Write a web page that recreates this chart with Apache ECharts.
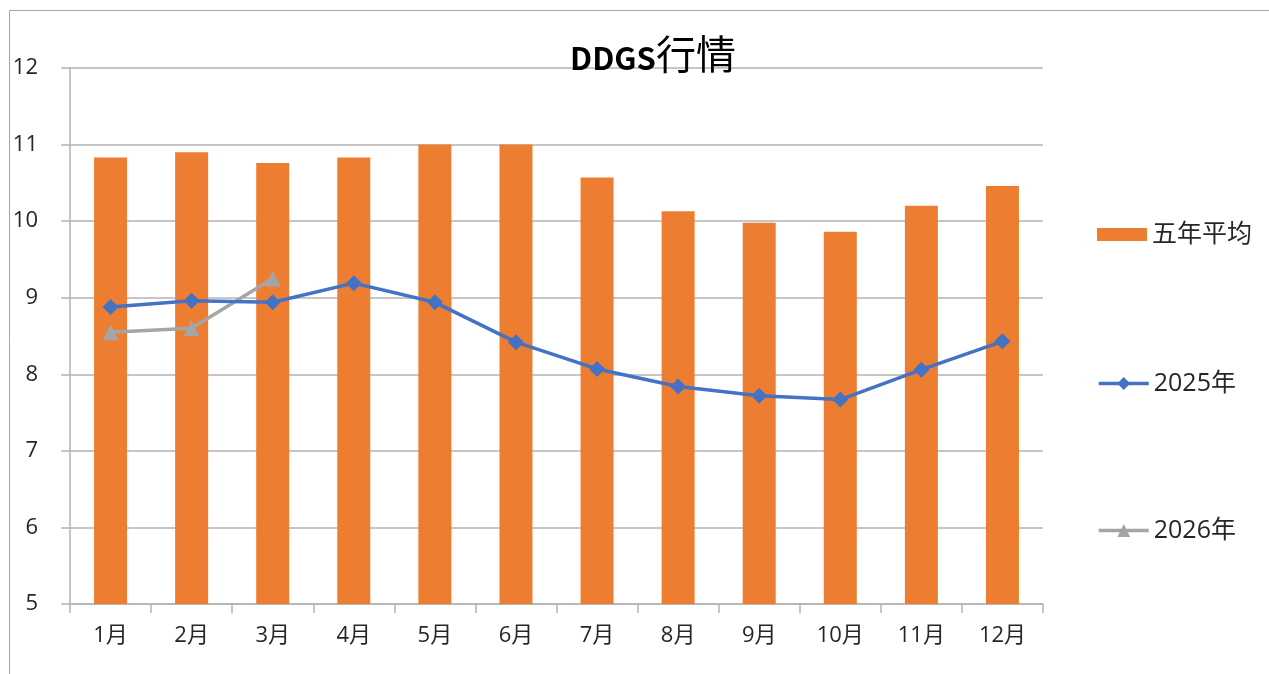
<!DOCTYPE html>
<html>
<head>
<meta charset="utf-8">
<script src="https://cdn.jsdelivr.net/npm/echarts@6/dist/echarts.min.js"></script>
<style>
html,body{margin:0;padding:0;background:#fff;}
#chart{width:1269px;height:674px;}
</style>
</head>
<body>
<div id="chart"></div>
<script>
var categories = ['1月','2月','3月','4月','5月','6月','7月','8月','9月','10月','11月','12月'];
var avg5 = [10.83, 10.90, 10.76, 10.83, 11.00, 11.00, 10.57, 10.13, 9.98, 9.86, 10.20, 10.46];
var y2025 = [8.88, 8.96, 8.94, 9.19, 8.94, 8.42, 8.07, 7.84, 7.72, 7.67, 8.06, 8.43];
var y2026 = [8.55, 8.60, 9.25, null, null, null, null, null, null, null, null, null];
var yTicks = [5, 6, 7, 8, 9, 10, 11, 12];

var chart = echarts.init(document.getElementById('chart'));
var gridColor = '#b3b3b3';
var txt = '#262626';
var font = '"Open Sans", "Noto Sans CJK SC", sans-serif';
chart.setOption({
  animation: false,
  textStyle: { fontFamily: font },
  graphic: [{
    type: 'rect', silent: true,
    shape: { x: 9.5, y: 10.5, width: 1400, height: 800 },
    style: { fill: 'none', stroke: '#a6a6a6', lineWidth: 1 }
  }],
  title: {
    text: '{a|DDGS}{b|行情}',
    left: 648, top: 19, textAlign: 'center',
    textStyle: {
      rich: {
        a: { fontSize: 31, fontWeight: 'bold', color: '#000', fontFamily: '"Noto Sans CJK SC"', verticalAlign: 'bottom', lineHeight: 50 },
        b: { fontSize: 40, fontWeight: 'normal', color: '#000', fontFamily: '"Noto Sans CJK SC"', verticalAlign: 'bottom', lineHeight: 50 }
      }
    }
  },
  legend: [
    { data: [{ name: '五年平均', icon: 'rect' }], orient: 'vertical', left: 1092, top: 217, itemWidth: 50, itemHeight: 13, itemGap: 0,
      textStyle: { fontSize: 25, color: txt, fontFamily: font } },
    { data: ['2025年'], orient: 'vertical', left: 1092, top: 366, itemWidth: 50, itemHeight: 16,
      lineStyle: { width: 3.5 },
      textStyle: { fontSize: 25, color: txt, fontFamily: font } },
    { data: ['2026年'], orient: 'vertical', left: 1092, top: 513, itemWidth: 50, itemHeight: 16,
      lineStyle: { width: 3.5 },
      textStyle: { fontSize: 25, color: txt, fontFamily: font } }
  ],
  grid: { left: 70, right: 226, top: 68, bottom: 70, containLabel: false },
  xAxis: {
    type: 'category', data: categories, boundaryGap: true,
    axisLine: { show: true, lineStyle: { color: gridColor, width: 1.5 } },
    axisTick: { show: true, length: 9, alignWithLabel: false, lineStyle: { color: gridColor, width: 1.5 } },
    axisLabel: { fontSize: 22, color: txt, margin: 21, interval: 0 },
    splitLine: { show: false }
  },
  yAxis: {
    type: 'value', min: yTicks[0], max: yTicks[yTicks.length - 1], interval: 1,
    axisLine: { show: true, lineStyle: { color: gridColor, width: 1.5 } },
    axisTick: { show: true, length: 9, lineStyle: { color: gridColor, width: 1.5 } },
    axisLabel: { fontSize: 22, color: txt, margin: 32 },
    splitLine: { show: true, lineStyle: { color: gridColor, width: 1.5 } }
  },
  series: [
    { name: '五年平均', type: 'bar', data: avg5, barWidth: 33,
      itemStyle: { color: '#ED7D31' }, z: 2 },
    { name: '2025年', type: 'line', data: y2025, symbol: 'diamond', symbolSize: 16,
      lineStyle: { color: '#4472C4', width: 3.5 }, itemStyle: { color: '#4472C4' }, z: 4 },
    { name: '2026年', type: 'line', data: y2026, symbol: 'triangle', symbolSize: 16,
      lineStyle: { color: '#A5A5A5', width: 3.5 }, itemStyle: { color: '#A5A5A5' }, z: 3 }
  ]
});
</script>
</body>
</html>
